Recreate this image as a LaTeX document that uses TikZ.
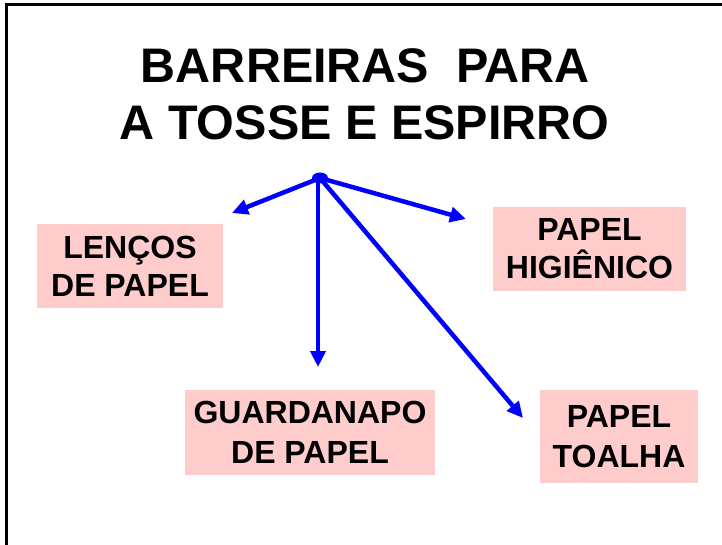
\documentclass[tikz,border=0pt]{standalone}
\usepackage{fontspec}
\setmainfont{Liberation Sans}
\usetikzlibrary{arrows.meta,shapes.geometric}
\definecolor{boxpink}{RGB}{255,204,204}
\definecolor{arrowblue}{RGB}{0,0,255}
\begin{document}
\begin{tikzpicture}[x=1pt,y=-1pt,
  titletext/.style={anchor=base,font=\fontsize{48.5}{57}\selectfont\bfseries,inner sep=0},
  pinkbox/.style={fill=boxpink,inner sep=0,align=center,font=\fontsize{32}{38}\selectfont\bfseries},
  barrier/.style={draw=arrowblue,line width=4.5pt,-{Triangle[length=16pt,width=15pt]}},
  hubdot/.style={fill=arrowblue,ellipse,minimum width=16pt,minimum height=11pt,inner sep=0},
  frame/.style={line width=3pt,black}]
\useasboundingbox (0,0) rectangle (722,545);
% slide frame (top and left edges)
\draw[frame] (6.5,545) -- (6.5,5) -- (722,5);
% title
\node[titletext] (t1) at (365.5,83) {BARREIRAS~~PARA};
\node[titletext] (t2) at (364.5,140) {A TOSSE E ESPIRRO};
% boxes
\node[pinkbox,minimum width=186pt,minimum height=84pt] (lencos) at (130,266) {LENÇOS\\DE PAPEL};
\node[pinkbox,minimum width=193pt,minimum height=84pt] (higienico) at (589.5,249) {PAPEL\\HIGIÊNICO};
\node[pinkbox,minimum width=250pt,minimum height=85pt,font=\fontsize{32}{40}\selectfont\bfseries] (guardanapo) at (310,432.5) {GUARDANAPO\\DE PAPEL};
\node[pinkbox,minimum width=158pt,minimum height=93pt,font=\fontsize{32}{40}\selectfont\bfseries] (toalha) at (619,436.5) {PAPEL\\TOALHA};
% arrow tips
\coordinate (tipL) at (232,213);
\coordinate (tipR) at (466,219);
\coordinate (tipD) at (318,367);
\coordinate (tipT) at (523,418);
% hub
\node[hubdot] (hub) at (320,178) {};
\draw[barrier] (hub.center) -- (tipL);
\draw[barrier] (hub.center) -- (tipR);
\draw[barrier] (hub.center) ++(-2,0) -- (tipD);
\draw[barrier] (hub.center) -- (tipT);
\end{tikzpicture}
\end{document}
